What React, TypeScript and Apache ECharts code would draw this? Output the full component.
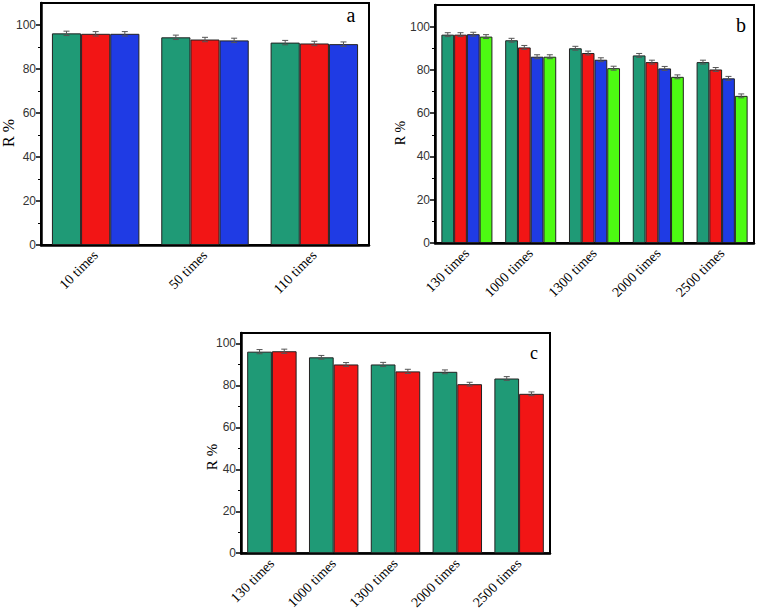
import React, { useEffect, useRef } from "react";
import * as echarts from "echarts";

// Panel a
const catsA = ["10 times", "50 times", "110 times"];
const aGreen = [96.2, 94.4, 92.0];
const aRed = [96.0, 93.4, 91.6];
const aBlue = [96.0, 93.0, 91.3];
const aErr = [1.0, 1.0, 1.0];

// Panel b
const catsB = ["130 times", "1000 times", "1300 times", "2000 times", "2500 times"];
const bGreen = [96.3, 93.7, 90.0, 86.7, 83.6];
const bRed = [96.3, 90.4, 87.8, 83.6, 80.2];
const bBlue = [96.5, 86.1, 84.7, 80.7, 76.1];
const bLime = [95.4, 86.1, 80.8, 76.8, 68.0];
const bErr = [0.9, 0.9, 0.9, 0.9, 0.9];

// Panel c
const catsC = ["130 times", "1000 times", "1300 times", "2000 times", "2500 times"];
const cGreen = [96.1, 93.4, 90.0, 86.5, 83.3];
const cRed = [96.3, 90.0, 86.7, 80.6, 76.0];
const cErr = [1.0, 0.9, 1.0, 0.9, 0.9];

const yTicks = [0, 20, 40, 60, 80, 100];

const GREEN = "#1f9a76";
const RED = "#f21515";
const BLUE = "#1f3be4";
const LIME = "#4dfb12";

export default function App() {
  const ref = useRef<HTMLDivElement>(null);
  useEffect(() => {
    if (!ref.current) return;
    const chart = echarts.init(ref.current, null, { renderer: "svg" });

    const panels = [
      { cats: catsA, data: [aGreen, aRed, aBlue], colors: [GREEN, RED, BLUE], err: aErr, max: 110,
        grid: { left: 41, top: 3, width: 328, height: 242 } },
      { cats: catsB, data: [bGreen, bRed, bBlue, bLime], colors: [GREEN, RED, BLUE, LIME], err: bErr, max: 110,
        grid: { left: 435, top: 5, width: 319, height: 238 } },
      { cats: catsC, data: [cGreen, cRed], colors: [GREEN, RED], err: cErr, max: 105,
        grid: { left: 241, top: 333, width: 309, height: 230 } },
    ];

    const grids: any[] = [];
    const xAxes: any[] = [];
    const yAxes: any[] = [];
    const series: any[] = [];

    panels.forEach((p, pi) => {
      grids.push({ ...p.grid, show: true, borderColor: "#000", borderWidth: 2, backgroundColor: "transparent" });
      xAxes.push({
        type: "category", gridIndex: pi, data: p.cats,
        axisLine: { lineStyle: { color: "#000", width: 2.5 } },
        axisTick: { show: false },
        axisLabel: { rotate: 45, margin: 8, fontFamily: "Liberation Serif", fontSize: 14, color: "#000", interval: 0 },
      });
      yAxes.push({
        type: "value", gridIndex: pi, min: 0, max: p.max, interval: 20,
        splitLine: { show: false },
        axisLine: { show: true, lineStyle: { color: "#000", width: 2.5 } },
        axisTick: { show: true, length: 5, lineStyle: { color: "#000", width: 1.5 },
          customValues: yTicks },
        minorTick: { show: true, splitNumber: 2, length: 3, lineStyle: { color: "#000", width: 1 } },
        axisLabel: { fontFamily: "Liberation Sans", fontSize: 12, color: "#333", margin: 5,
          customValues: yTicks },
      });
      const n = p.data.length;
      p.data.forEach((vals, si) => {
        series.push({
          type: "bar", xAxisIndex: pi, yAxisIndex: pi, data: vals,
          barGap: "0%", barCategoryGap: "20%",
          itemStyle: { color: p.colors[si], borderColor: "#222", borderWidth: 1 },
          z: 2,
        });
      });
      p.data.forEach((vals, si) => {
        series.push({
          type: "custom", xAxisIndex: pi, yAxisIndex: pi, z: 5,
          data: vals.map((v, ci) => [ci, v, p.err[ci]]),
          encode: { x: 0, y: 1 },
          renderItem: (params: any, api: any) => {
            const ci = api.value(0);
            const v = api.value(1);
            const e = api.value(2);
            const pt = api.coord([ci, v]);
            const band = api.size([1, 0])[0];
            const bw = (band * 0.8) / n;
            const cx = pt[0] - band * 0.4 + bw * (si + 0.5);
            const top = api.coord([ci, v + e])[1];
            const bot = api.coord([ci, v - e])[1];
            const cap = 3;
            const st = { stroke: "#555", lineWidth: 1 };
            return {
              type: "group",
              children: [
                { type: "line", shape: { x1: cx, y1: top, x2: cx, y2: bot }, style: st },
                { type: "line", shape: { x1: cx - cap, y1: top, x2: cx + cap, y2: top }, style: st },
                { type: "line", shape: { x1: cx - cap, y1: bot, x2: cx + cap, y2: bot }, style: st },
              ],
            };
          },
        });
      });
    });

    const txt = (text: string, x: number, y: number, size: number, rot = 0) => ({
      type: "text", x, y, rotation: rot, z: 10,
      style: { text, fontFamily: "Liberation Serif", fontSize: size, fill: "#000", align: "center", verticalAlign: "middle" },
    });

    chart.setOption({
      animation: false,
      backgroundColor: "#fff",
      grid: grids,
      xAxis: xAxes,
      yAxis: yAxes,
      series,
      graphic: [
        txt("R %", 8, 133, 16, Math.PI / 2),
        txt("R %", 400, 133, 14, Math.PI / 2),
        txt("R %", 212, 457, 15, Math.PI / 2),
        txt("a", 351, 15, 20),
        txt("b", 741, 25, 20),
        txt("c", 534, 353, 18),
      ],
    });
    return () => chart.dispose();
  }, []);
  return (
    <div
      ref={ref}
      style={{ position: "fixed", left: 0, top: 0, width: 758, height: 612 }}
    />
  );
}
